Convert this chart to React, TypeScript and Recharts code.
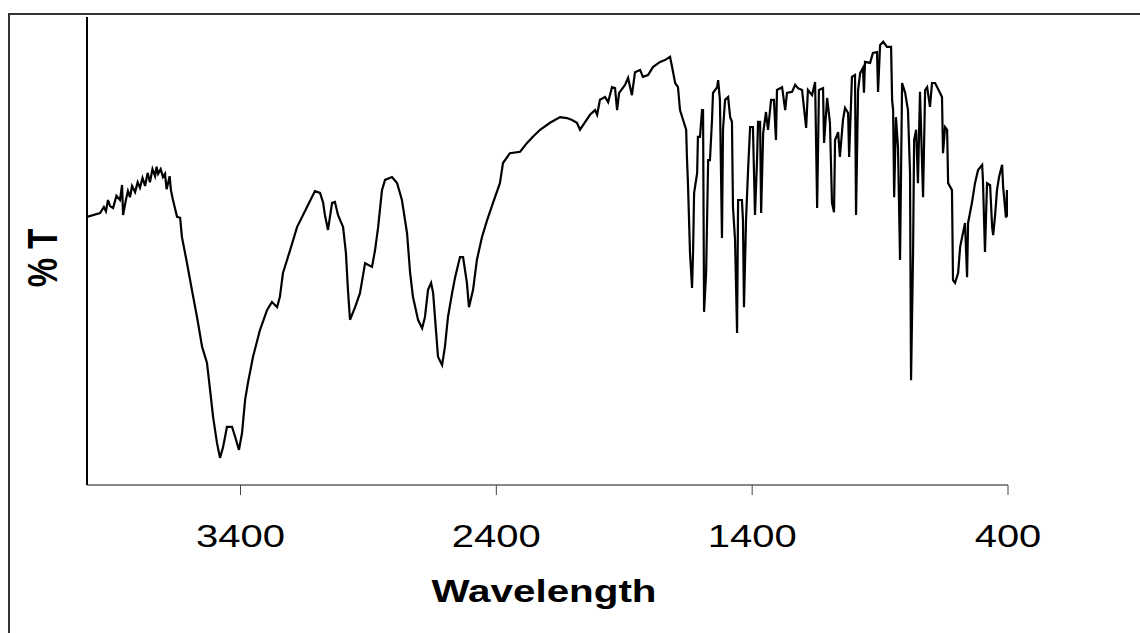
import { LineChart, Line, XAxis, YAxis } from 'recharts'

// IR spectrum, wavenumber (cm-1) vs % transmittance
const wavenumbers = [
  4000, 3949, 3934, 3926, 3918, 3910, 3898, 3885, 3871, 3863, 3859, 3848, 3840, 3832, 3824, 3812,
  3802, 3793, 3783, 3773, 3763, 3754, 3744, 3734, 3728, 3722, 3712, 3703, 3695, 3689, 3683, 3677,
  3672, 3664, 3648, 3636, 3629, 3609, 3590, 3570, 3550, 3531, 3519, 3507, 3492, 3480, 3468,
  3453, 3433, 3421, 3406, 3394, 3382, 3371, 3351, 3324, 3296, 3277, 3257, 3246, 3234, 3206, 3179,
  3140, 3109, 3089, 3077, 3070, 3058, 3042, 3031, 3019, 2999, 2988, 2980, 2972, 2952, 2933, 2913,
  2886, 2874, 2862, 2847, 2835, 2808, 2788, 2769, 2749, 2737, 2726, 2706, 2690, 2679, 2667, 2655,
  2647, 2636, 2628, 2612, 2601, 2589, 2573, 2561, 2542, 2530, 2515, 2507, 2491, 2476, 2456, 2436,
  2413, 2386, 2374, 2347, 2307, 2280, 2257, 2229, 2190, 2151, 2124, 2104, 2085, 2073, 2061, 2034,
  2014, 2006, 1995, 1975, 1963, 1948, 1936, 1928, 1920, 1897, 1885, 1870, 1858, 1838, 1827, 1807,
  1788, 1760, 1741, 1721, 1713, 1701, 1690, 1682, 1670, 1658, 1655, 1651, 1643, 1635, 1631, 1627,
  1615, 1612, 1604, 1596, 1592, 1588, 1580, 1572, 1565, 1557, 1553, 1537, 1533, 1526, 1518, 1514,
  1506, 1494, 1486, 1479, 1475, 1467, 1459, 1455, 1440, 1436, 1432, 1424, 1416, 1408, 1397, 1389,
  1381, 1377, 1369, 1365, 1357, 1346, 1338, 1326, 1315, 1307, 1303, 1283, 1271, 1264, 1244, 1232,
  1221, 1205, 1189, 1182, 1166, 1154, 1146, 1139, 1123, 1119, 1107, 1096, 1088, 1080, 1076, 1064,
  1057, 1045, 1037, 1025, 1021, 1010, 998, 994, 986, 978, 967, 963, 959, 939, 928, 912,
  908, 900, 888, 873, 857, 853, 849, 845, 838, 830, 822, 814, 802, 791, 783, 779,
  771, 767, 759, 752, 744, 732, 724, 716, 705, 697, 685, 666, 658, 654, 646, 638,
  634, 619, 615, 607, 595, 587, 568, 560, 556, 541, 529, 517, 501, 498, 490, 482,
  470, 462, 458, 451, 443, 435, 423, 419, 408, 404, 400,
]

const transmittance = [
  57.3, 58.1, 59.4, 58.5, 60.9, 59.6, 59.2, 61.8, 60.9, 64.1, 57.7, 60.9, 62.8, 61.5, 63.9, 62.6,
  64.7, 63.5, 65.6, 63.9, 66.7, 64.7, 67.5, 66.0, 68.0, 66.5, 67.5, 65.8, 66.5, 63.2, 64.5, 66.0,
  63.0, 60.9, 57.3, 57.1, 53.0, 47.4, 41.7, 35.9, 29.5, 26.1, 20.3, 14.5, 9.0, 5.8, 8.1,
  12.4, 12.4, 10.3, 7.5, 11.1, 18.2, 21.8, 27.4, 33.1, 37.4, 39.1, 38.0, 40.2, 45.3, 50.2, 55.1,
  59.4, 62.8, 62.4, 60.3, 57.7, 54.5, 60.3, 60.5, 57.7, 55.1, 49.6, 41.7, 35.3, 38.0, 41.0, 47.4,
  46.6, 50.2, 55.1, 63.0, 65.2, 65.8, 64.5, 60.9, 53.8, 45.3, 40.2, 35.3, 33.5, 35.9, 41.7, 43.2,
  41.0, 33.1, 27.4, 25.6, 29.5, 35.9, 41.0, 44.4, 48.7, 48.7, 43.2, 38.0, 41.7, 48.1, 53.0, 56.6,
  60.3, 64.5, 68.8, 70.9, 71.2, 73.1, 74.4, 75.9, 77.4, 78.6, 78.4, 78.0, 77.4, 75.9, 76.9, 79.1,
  80.1, 79.1, 82.3, 82.9, 81.8, 85.0, 84.8, 80.1, 83.8, 85.5, 87.0, 83.3, 88.2, 88.7, 87.2, 87.6,
  89.3, 90.4, 90.8, 91.5, 89.3, 85.9, 85.0, 80.1, 78.0, 75.9, 70.1, 64.5, 49.6, 42.1, 49.6, 62.4,
  66.7, 74.4, 74.4, 80.1, 80.1, 37.0, 45.3, 69.4, 69.4, 78.0, 83.8, 85.0, 86.5, 82.3, 52.8, 75.9,
  82.3, 82.9, 78.6, 77.6, 59.4, 52.4, 32.5, 60.9, 60.9, 56.6, 38.0, 56.6, 67.3, 76.5, 76.5, 57.7,
  69.4, 77.6, 77.6, 58.1, 75.2, 79.7, 75.9, 82.3, 82.3, 73.7, 84.4, 85.0, 80.1, 83.8, 84.0, 85.5,
  84.8, 84.4, 76.3, 84.4, 83.3, 86.1, 59.2, 84.4, 84.8, 73.1, 82.7, 77.4, 60.3, 58.3, 73.7, 75.4,
  70.1, 78.0, 80.6, 79.5, 70.1, 87.2, 87.6, 57.7, 84.4, 88.0, 89.1, 83.8, 90.4, 90.2, 92.3, 92.5,
  84.0, 94.0, 94.7, 93.6, 93.6, 82.3, 80.1, 61.5, 78.6, 72.2, 48.1, 85.9, 83.8, 80.1, 66.7, 22.4,
  49.8, 73.7, 75.9, 64.5, 84.0, 61.5, 84.4, 85.0, 80.8, 85.9, 85.9, 83.8, 82.9, 70.9, 76.5, 75.9,
  64.5, 63.0, 43.8, 43.2, 45.3, 50.9, 56.0, 44.4, 56.0, 60.3, 64.5, 67.3, 68.4, 65.2, 49.8, 64.5,
  64.1, 55.1, 53.4, 57.3, 63.0, 65.8, 68.4, 63.7, 57.1, 63.0, 57.3,
]

const xTicks = [3400, 2400, 1400, 400]

const data = wavenumbers.map((wn, i) => ({ wn, t: transmittance[i] }))

const FONT = 'Arial, "Liberation Sans", sans-serif'

// the original picture is stretched sideways, so the glyphs are widened with textLength
function WaveTick(props: any) {
  const { x, y, payload } = props
  const label = String(payload.value)
  return (
    <text
      x={x}
      y={y + 50}
      textAnchor="middle"
      fontFamily={FONT}
      fontSize={32}
      fill="#000"
      textLength={label.length * 22.5 - 1}
      lengthAdjust="spacingAndGlyphs"
    >
      {label}
    </text>
  )
}

export default function App() {
  return (
    <div style={{ position: 'relative', width: 1140, height: 633, background: '#fff', overflow: 'hidden' }}>
      <style>{'body{margin:0;overflow:hidden}'}</style>
      <LineChart
        width={1140}
        height={633}
        data={data}
        margin={{ top: 17, right: 132, bottom: 88, left: 27 }}
      >
        <XAxis
          dataKey="wn"
          type="number"
          domain={[400, 4000]}
          reversed
          ticks={xTicks}
          interval={0}
          height={60}
          tickSize={10}
          tickLine={{ stroke: '#444', strokeWidth: 1 }}
          axisLine={{ stroke: '#111', strokeWidth: 1 }}
          tick={<WaveTick />}
          allowDataOverflow
        />
        <YAxis
          type="number"
          domain={[0, 100]}
          width={60}
          tick={false}
          tickLine={false}
          axisLine={{ stroke: '#000', strokeWidth: 2 }}
        />
        <Line
          type="linear"
          dataKey="t"
          stroke="#000"
          strokeWidth={2.2}
          dot={false}
          isAnimationActive={false}
        />
      </LineChart>
      <svg
        width={1140}
        height={633}
        style={{ position: 'absolute', left: 0, top: 0, pointerEvents: 'none' }}
      >
        <rect x={9} y={14} width={1200} height={700} fill="none" stroke="#333" strokeWidth={2} />
        <text
          x={544}
          y={602}
          textAnchor="middle"
          fontFamily={FONT}
          fontWeight="bold"
          fontSize={32}
          fill="#000"
          textLength={225}
          lengthAdjust="spacingAndGlyphs"
        >
          Wavelength
        </text>
        <g transform="translate(42,258) scale(1.27,1) rotate(-90)">
          <text
            x={0}
            y={0}
            dy="0.36em"
            textAnchor="middle"
            fontFamily={FONT}
            fontWeight="bold"
            fontSize={33}
            fill="#000"
          >
            % T
          </text>
        </g>
      </svg>
    </div>
  )
}
